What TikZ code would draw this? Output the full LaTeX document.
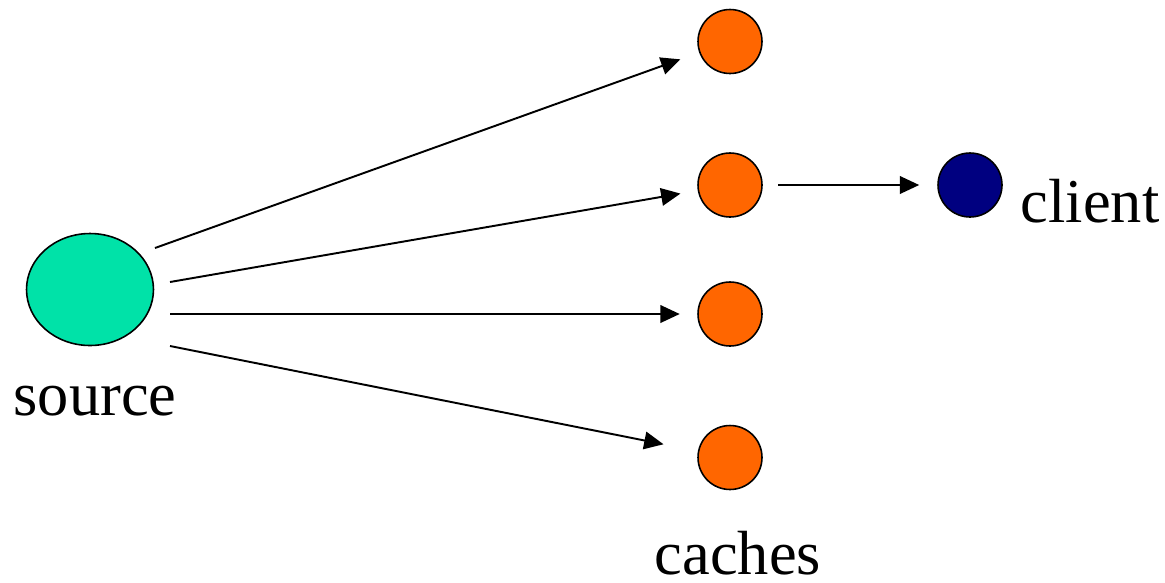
\documentclass[tikz,border=0pt]{standalone}
\usepackage{fontspec}
\setmainfont{Liberation Serif}
\usetikzlibrary{shapes.geometric, arrows.meta}
\definecolor{sourcegreen}{RGB}{0,226,168}
\definecolor{cacheorange}{RGB}{255,102,0}
\definecolor{clientblue}{RGB}{0,0,128}

\begin{document}
\begin{tikzpicture}[
    x=0.02cm, y=-0.02cm,
    >={Triangle[length=11pt,width=10pt]},
    source node/.style={ellipse,draw,line width=0.9pt,fill=sourcegreen,
        minimum width=2.54cm,minimum height=2.24cm,inner sep=0pt},
    cache/.style={circle,draw,line width=0.9pt,fill=cacheorange,
        minimum size=1.28cm,inner sep=0pt},
    client node/.style={circle,draw,line width=0.9pt,fill=clientblue,
        minimum size=1.28cm,inner sep=0pt},
    main label/.style={anchor=base,inner sep=0pt,font=\fontsize{35.5}{42}\selectfont},
    flow/.style={->,line width=1.1pt}
    ]
    \useasboundingbox (0,0) rectangle (1165,582);
    % nodes
    \node [source node] (source) at (90,289.5) {};
    \node [cache] (cache1) at (730,41.5) {};
    \node [cache] (cache2) at (730,185) {};
    \node [cache] (cache3) at (730,314) {};
    \node [cache] (cache4) at (730,457.5) {};
    \node [client node] (client) at (970,185) {};
    % labels
    \node [main label] (source label) at (95,415) {source};
    \node [main label] (client label) at (1090,222) {client};
    \node [main label] (cache label) at (738,574) {caches};
    % start points on the source side
    \coordinate (out1) at (155,248);
    \coordinate (out2) at (170,282);
    \coordinate (out3) at (170,314);
    \coordinate (out4) at (170,346);
    % edges
    \draw [flow,shorten >=0.4cm] (out1) -- (cache1);
    \draw [flow,shorten >=0.35cm] (out2) -- (cache2);
    \draw [flow,shorten >=0.35cm] (out3) -- (cache3);
    \draw [flow,shorten >=0.7cm] (out4) -- (cache4);
    \draw [flow,shorten <=0.31cm,shorten >=0.36cm] (cache2) -- (client);
\end{tikzpicture}
\end{document}
